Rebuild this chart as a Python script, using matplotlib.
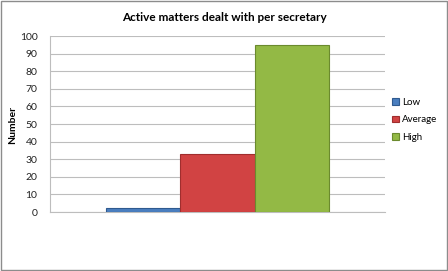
import matplotlib.pyplot as plt
import numpy as np
from matplotlib.patches import Rectangle

# data
categories = ['Low', 'Average', 'High']
values = [2, 33, 95]
colors = ['#4a7ebf', '#d14343', '#93b945']
edges = ['#2f5a8f', '#a02e2e', '#6b8a2e']

plt.rcParams['font.family'] = ['Lato', 'DejaVu Sans']

fig = plt.figure(figsize=(4.48, 2.71), dpi=100)
fig.patches.append(Rectangle((0.002, 0.004), 0.995, 0.992, transform=fig.transFigure,
                             fill=False, edgecolor='#8c8c8c', linewidth=1.0))

ax = fig.add_axes([0.1116, 0.2177, 0.7474, 0.6494])

x = np.arange(len(categories)) - 1
for xi, v, c, e, lab in zip(x, values, colors, edges, categories):
    ax.bar(xi, v, width=1.0, color=c, edgecolor=e, linewidth=0.8, label=lab, zorder=3)

ax.set_xlim(-2.25, 2.25)
ax.set_ylim(0, 100)
ax.set_yticks(np.arange(0, 101, 10))
ax.set_xticks([])
ax.yaxis.grid(True, color='#bdbdbd', linewidth=0.8, zorder=0)
ax.tick_params(axis='y', length=0, labelsize=7.5, pad=9, colors='#222222')
for s in ['top', 'right']:
    ax.spines[s].set_visible(False)
ax.spines['left'].set_color('#bdbdbd')
ax.spines['bottom'].set_color('#bdbdbd')

fig.text(13 / 448, 1 - 125 / 271, 'Number', rotation=90, ha='center', va='center',
         fontsize=7.5, fontweight='bold')
fig.text(0.5, 0.935, 'Active matters dealt with per secretary', ha='center',
         va='center', fontsize=8.5, fontweight='bold')

ax.legend(loc='center left', bbox_to_anchor=(0.995, 0.523), frameon=False,
          fontsize=7, handlelength=0.7, handleheight=0.7, handletextpad=0.3,
          labelspacing=0.9)

fig.savefig('out.png', dpi=100)
